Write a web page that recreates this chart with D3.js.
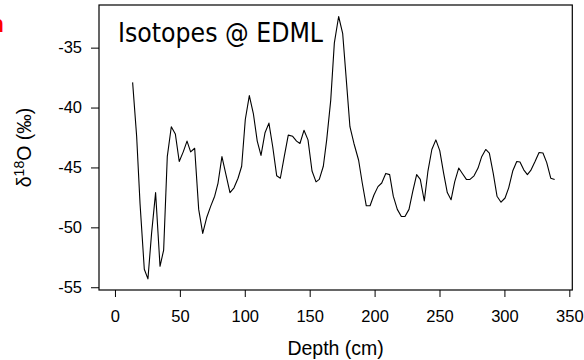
<!DOCTYPE html>
<html>
<head>
<meta charset="utf-8">
<script src="https://cdn.jsdelivr.net/npm/d3@7"></script>
<style>
  html, body { margin: 0; padding: 0; background: #fff; }
  svg { display: block; }
</style>
</head>
<body>
<script>
// ---- data ----
const depth = [
  13.6,16.7,19.3,22.6,25.4,28.2,31.3,34.7,37.5,40.3,43.4,46.5,49.5,52.6,55.5,58.3,61.4,64.5,67.6,70.6,73.7,76.8,79.4,82.4,85.5,
  88.6,91.7,94.8,97.6,100.4,103.5,106.6,109.6,112.5,115.6,118.6,121.5,124.6,127.4,130.4,133.5,
  136.9,139.9,142.5,145.6,148.7,151.8,154.9,157.4,160.5,163.1,166.2,169.0,172.3,
  175.4,178.0,181.0,184.1,187.7,190.5,193.6,196.5,199.5,202.6,205.5,208.6,211.6,214.4,217.5,220.6,223.4,226.5,229.4,232.4,
  235.2,238.3,241.1,244.1,247.2,250.2,253.2,256.0,258.9,261.7,264.8,267.6,270.7,273.5,276.6,279.7,282.5,285.6,288.4,291.4,
  294.3,297.4,300.5,303.3,306.4,309.5,312.0,314.9,317.7,320.3,323.6,326.7,329.7,332.6,335.7,338.7
];
const d18O = [
  -37.9,-42.4,-48.0,-53.5,-54.3,-50.5,-47.1,-53.25,-51.9,-44.1,-41.6,-42.2,-44.5,-43.7,-42.8,-43.7,-43.4,-48.5,-50.5,-49.2,-48.25,-47.4,-46.3,-44.1,-45.6,
  -47.1,-46.7,-45.9,-44.9,-41.0,-39.0,-40.5,-42.8,-44.0,-42.1,-41.3,-43.25,-45.7,-45.9,-44.1,-42.3,
  -42.4,-42.8,-43.0,-41.9,-42.7,-45.3,-46.2,-46.0,-44.9,-42.7,-39.4,-34.6,-32.4,
  -33.8,-37.4,-41.6,-43.0,-44.4,-46.3,-48.2,-48.2,-47.3,-46.6,-46.3,-45.5,-45.6,-47.4,-48.5,-49.1,-49.1,-48.5,-47.0,-45.6,
  -46.0,-47.8,-45.3,-43.5,-42.7,-43.6,-45.5,-47.1,-47.7,-46.2,-45.05,-45.5,-46.0,-46.0,-45.7,-45.05,-44.1,-43.5,-43.8,-45.5,
  -47.4,-47.9,-47.55,-46.7,-45.3,-44.5,-44.55,-45.2,-45.6,-45.25,-44.5,-43.75,-43.8,-44.6,-45.9,-46.0
];
const xTicks = [0, 50, 100, 150, 200, 250, 300, 350];
const yTicks = [-55, -50, -45, -40, -35];
const xDomain = [-12.3, 352.3];
const yDomain = [-55.23, -31.44];
const titleText = "Isotopes @ EDML";
const xLabel = "Depth (cm)";

// ---- layout ----
const W = 584, H = 360;
const plot = { left: 99, right: 572.3, top: 5, bottom: 290 };
const tickFont = "'Liberation Sans', Arial, sans-serif";

const svg = d3.select("body").append("svg")
  .attr("width", W).attr("height", H);

const x = d3.scaleLinear().domain(xDomain).range([plot.left, plot.right]);
const y = d3.scaleLinear().domain(yDomain).range([plot.bottom, plot.top]);

// partial red text at the top-left corner (cut off by the edge, as in the reference)
svg.append("text")
  .attr("x", 4).attr("y", 32)
  .attr("text-anchor", "end")
  .attr("font-family", tickFont)
  .attr("font-weight", "bold")
  .attr("font-size", 24)
  .attr("fill", "#ff0000")
  .text("n");

// axes
const xAxis = svg.append("g")
  .attr("transform", `translate(0,${plot.bottom})`)
  .call(d3.axisBottom(x).tickValues(xTicks).tickSize(7).tickFormat(d3.format("d")));
xAxis.select(".domain").remove();
xAxis.selectAll("text")
  .attr("font-family", tickFont).attr("font-size", 16.5).attr("fill", "#000")
  .attr("y", 32).attr("dy", 0);
xAxis.selectAll("line").attr("stroke", "#000");

const yAxis = svg.append("g")
  .attr("transform", `translate(${plot.left},0)`)
  .call(d3.axisLeft(y).tickValues(yTicks).tickSize(8).tickPadding(9).tickFormat(d => String(d)));
yAxis.select(".domain").remove();
yAxis.selectAll("text").attr("font-family", tickFont).attr("font-size", 16.5).attr("fill", "#000");
yAxis.selectAll("line").attr("stroke", "#000");

// frame
svg.append("rect")
  .attr("x", plot.left).attr("y", plot.top)
  .attr("width", plot.right - plot.left).attr("height", plot.bottom - plot.top)
  .attr("fill", "none").attr("stroke", "#000").attr("stroke-width", 1.2);

// line
const pts = depth.map((d, i) => [d, d18O[i]]);
svg.append("path")
  .datum(pts)
  .attr("fill", "none")
  .attr("stroke", "#000")
  .attr("stroke-width", 1.1)
  .attr("stroke-linejoin", "round")
  .attr("d", d3.line().x(d => x(d[0])).y(d => y(d[1])));

// title inside plot
svg.append("text")
  .attr("x", 118).attr("y", 42)
  .attr("font-family", "'DejaVu Sans Condensed', 'DejaVu Sans', Verdana, sans-serif")
  .attr("font-size", 27)
  .attr("textLength", 205)
  .attr("lengthAdjust", "spacingAndGlyphs")
  .attr("fill", "#000")
  .text(titleText);

// x label
svg.append("text")
  .attr("x", (plot.left + plot.right) / 2).attr("y", 354.5)
  .attr("text-anchor", "middle")
  .attr("font-family", tickFont)
  .attr("font-size", 19.5)
  .attr("fill", "#000")
  .text(xLabel);

// y label: δ18O (‰)
const yl = svg.append("text")
  .attr("transform", `translate(31,${(plot.top + plot.bottom) / 2}) rotate(-90)`)
  .attr("text-anchor", "middle")
  .attr("font-family", tickFont)
  .attr("font-size", 19.5)
  .attr("fill", "#000");
yl.append("tspan").text("δ");
yl.append("tspan").attr("font-size", 14).attr("dy", -7).text("18");
yl.append("tspan").attr("dy", 7).text("O (‰)");
</script>
</body>
</html>
